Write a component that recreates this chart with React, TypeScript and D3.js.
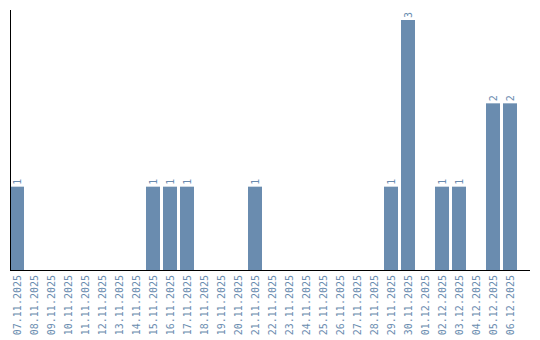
import React from "react";
import * as d3 from "d3";

const dates = [
  "07.11.2025","08.11.2025","09.11.2025","10.11.2025","11.11.2025","12.11.2025",
  "13.11.2025","14.11.2025","15.11.2025","16.11.2025","17.11.2025","18.11.2025",
  "19.11.2025","20.11.2025","21.11.2025","22.11.2025","23.11.2025","24.11.2025",
  "25.11.2025","26.11.2025","27.11.2025","28.11.2025","29.11.2025","30.11.2025",
  "01.12.2025","02.12.2025","03.12.2025","04.12.2025","05.12.2025","06.12.2025",
];
const counts = [1,0,0,0,0,0,0,0,1,1,1,0,0,0,1,0,0,0,0,0,0,0,1,3,0,1,1,0,2,2];

export default function App() {
  const W = 540, H = 340;
  const left = 10, bottom = 270, top = 20;
  const x = d3.scaleBand<string>().domain(dates).range([left, 517]).paddingInner(3 / 17).paddingOuter(0);
  const y = d3.scaleLinear().domain([0, d3.max(counts) as number]).range([bottom, top]);
  const color = "#6a8caf";
  const font = "DejaVu Sans Mono, monospace";
  return (
    <svg width={W} height={H} style={{ position: "absolute", left: 0, top: 0 }}>
      {dates.map((d, i) =>
        counts[i] > 0 ? (
          <g key={d}>
            <rect x={x(d)} y={y(counts[i])} width={x.bandwidth()} height={bottom - y(counts[i])} fill={color} />
            <text
              transform={`translate(${(x(d) as number) + x.bandwidth() / 2 + 3.5},${y(counts[i]) - 2}) rotate(-90)`}
              fontSize={10}
              fontFamily={font}
              fill={color}
            >
              {counts[i]}
            </text>
          </g>
        ) : null
      )}
      <line x1={left + 0.5} x2={left + 0.5} y1={10} y2={bottom} stroke="#000" />
      <line x1={left} x2={530} y1={bottom + 0.5} y2={bottom + 0.5} stroke="#000" />
      {dates.map((d) => (
        <text
          key={"t" + d}
          transform={`translate(${(x(d) as number) + x.bandwidth() / 2 + 3.5},${bottom + 5}) rotate(-90)`}
          textAnchor="end"
          fontSize={10}
          fontFamily={font}
          fill={color}
        >
          {d}
        </text>
      ))}
    </svg>
  );
}
